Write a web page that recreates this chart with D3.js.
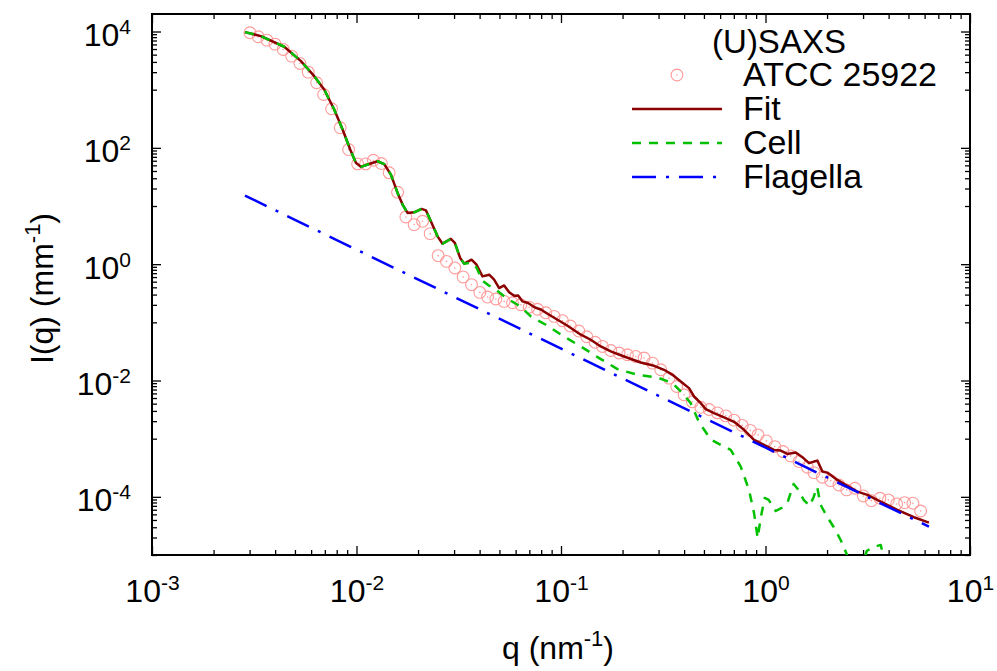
<!DOCTYPE html>
<html><head><meta charset="utf-8">
<script src="https://cdn.jsdelivr.net/npm/d3@7"></script>
<style>
body{margin:0;background:#fff}
svg{display:block}
text{font-family:"Liberation Sans",Arial,Helvetica,sans-serif}
</style>
</head><body>
<svg id="chart" width="997" height="671"></svg>
<script>
// ---- data ----
const dataQ=[3.013e-3,3.308e-3,3.648e-3,3.992e-3,4.383e-3,4.818e-3,5.290e-3,5.806e-3,6.383e-3,6.905e-3,
7.556e-3,8.324e-3,9.150e-3,1.013e-2,1.108e-2,1.209e-2,1.323e-2,1.445e-2,1.588e-2,1.743e-2,
1.914e-2,2.104e-2,2.292e-2,2.507e-2,2.756e-2,3.026e-2,3.322e-2,3.652e-2,4.010e-2,4.374e-2,
4.802e-2,5.272e-2,5.794e-2,6.362e-2,6.985e-2,7.677e-2,8.428e-2,9.254e-2,0.1017,0.1110,
0.1222,0.1337,0.1468,0.1595,0.1751,0.1923,0.2113,0.2320,0.2548,0.2800,
0.3074,0.3376,0.3681,0.3997,0.4392,0.4824,0.5296,0.5821,0.6391,0.7015,
0.7692,0.8418,0.9191,1.010,1.109,1.218,1.328,1.458,1.603,1.726,
1.897,2.083,2.287,2.494,2.738,3.009,3.293,3.627,3.988,4.377,
4.790,5.259,5.736];
const dataI=[9530,8130,7110,6070,4920,3776,2825,2000,1315,826,
469,221,93.5,53.1,53.1,61.2,53.7,37.2,17.2,6.49,
4.79,5.46,3.35,1.40,1.117,0.861,0.603,0.444,0.327,0.272,
0.252,0.229,0.217,0.201,0.182,0.168,0.146,0.1265,0.1067,0.0863,
0.0708,0.0565,0.0454,0.0385,0.0328,0.0297,0.0277,0.0259,0.0243,0.0199,
0.01528,0.01099,0.00789,0.00568,0.00430,0.00346,0.00317,0.00278,0.00247,0.00208,
0.00169,0.00139,0.00116,9.16e-4,7.31e-4,6.00e-4,5.06e-4,4.04e-4,3.23e-4,2.61e-4,
2.17e-4,1.90e-4,1.60e-4,1.315e-4,1.406e-4,1.035e-4,8.61e-5,9.46e-5,8.85e-5,7.55e-5,
7.94e-5,7.77e-5,5.71e-5];

const fitQ=[2.848e-3,3.410e-3,4.433e-3,5.350e-3,6.214e-3,6.952e-3,7.780e-3,8.552e-3,9.316e-3,9.933e-3,
1.051e-2,1.133e-2,1.268e-2,1.366e-2,1.473e-2,1.588e-2,1.680e-2,1.777e-2,1.914e-2,2.081e-2,
2.184e-2,2.310e-2,2.491e-2,2.635e-2,2.893e-2,3.026e-2,3.212e-2,3.360e-2,3.652e-2,3.864e-2,
4.133e-2,4.453e-2,4.710e-2,4.984e-2,5.272e-2,5.577e-2,5.900e-2,6.171e-2,6.485e-2,6.906e-2,
7.387e-2,7.967e-2,8.590e-2,9.614e-2,0.1076,0.1250,0.1398,0.1565,0.1751,0.2034,
0.2455,0.2851,0.3190,0.3508,0.3850,0.4227,0.4471,0.4824,0.5101,0.5601,
0.6270,0.7015,0.7852,0.8788,0.9833,1.100,1.186,1.279,1.405,1.515,
1.632,1.726,1.793,1.897,2.006,2.246,2.513,2.813,3.148,3.656,
4.412,5.318,6.297];
const fitI=[9770,8337,5470,3097,1708,1007,456,206.5,93.5,55.2,
47.1,51.6,58.8,52.6,34.7,16.8,10.57,7.60,7.80,8.91,
8.43,5.46,3.01,2.25,2.72,2.32,1.279,1.021,1.194,0.979,
0.617,0.659,0.541,0.389,0.431,0.330,0.287,0.290,0.229,0.215,
0.183,0.166,0.1406,0.1109,0.0873,0.0612,0.0502,0.0385,0.0316,0.0259,
0.0204,0.0179,0.01528,0.01253,0.00962,0.00740,0.00531,0.00408,0.00322,0.00275,
0.00233,0.00195,0.00142,9.53e-4,7.82e-4,6.41e-4,6.24e-4,5.47e-4,5.77e-4,4.81e-4,
3.79e-4,4.04e-4,4.20e-4,2.72e-4,2.61e-4,1.954e-4,1.542e-4,1.227e-4,1.079e-4,8.26e-5,
5.96e-5,4.46e-5,3.60e-5];

const cellQ=[2.848e-3,3.410e-3,4.433e-3,5.350e-3,6.214e-3,6.952e-3,7.780e-3,8.552e-3,9.316e-3,9.933e-3,
1.051e-2,1.133e-2,1.268e-2,1.366e-2,1.473e-2,1.588e-2,1.680e-2,1.777e-2,1.914e-2,2.081e-2,
2.184e-2,2.310e-2,2.491e-2,2.635e-2,2.893e-2,3.026e-2,3.212e-2,3.360e-2,3.652e-2,3.864e-2,
4.133e-2,4.453e-2,4.710e-2,5.272e-2,5.577e-2,6.130e-2,6.507e-2,7.117e-2,8.428e-2,0.1020,
0.1250,0.1536,0.1888,0.2365,0.2963,0.3508,0.3925,0.4309,0.4732,0.5397,
0.6039,0.6760,0.7566,0.8305,0.8788,0.9159,0.9474,0.9910,1.036,1.122,
1.200,1.284,1.373,1.437,1.537,1.644,1.720,1.789,1.861,1.991,
2.154,2.331,2.494,2.668,2.920,3.124,3.380,3.656,3.824,4.092];
const cellI=[9770,8337,5470,3097,1708,1007,456,206.5,93.5,55.2,
47.1,51.6,58.8,52.6,34.7,16.8,10.57,7.60,7.80,8.91,
8.43,5.46,3.01,2.25,2.72,2.32,1.279,1.021,1.062,0.871,
0.520,0.427,0.386,0.281,0.245,0.201,0.1714,0.1265,0.0910,0.0587,
0.0385,0.0243,0.0157,0.01253,0.01127,0.00902,0.00607,0.00408,0.00191,9.72e-4,
7.82e-4,6.41e-4,3.31e-4,1.315e-4,5.28e-5,1.96e-5,4.34e-5,9.57e-5,8.85e-5,5.71e-5,
6.44e-5,8.17e-5,1.667e-4,1.368e-4,8.85e-5,6.97e-5,9.95e-5,1.479e-4,7.26e-5,4.69e-5,
3.03e-5,1.81e-5,1.04e-5,4.53e-6,5.10e-6,1.17e-5,1.37e-5,1.49e-5,8.2e-6,2.5e-6];

const flagQ=[2.848e-3,1.648e-2,0.1565,1.002,6.297];
const flagI=[15.10,0.760,0.01648,7.00e-4,3.07e-5];

const xTickValues=[1e-3,1e-2,1e-1,1e0,1e1];
const xTickExps=["-3","-2","-1","0","1"];
const yTickValues=[1e-4,1e-2,1e0,1e2,1e4];
const yTickExps=["-4","-2","0","2","4"];
const legendTitle="(U)SAXS";
const seriesNames=["ATCC 25922","Fit","Cell","Flagella"];
const xLabel=["q (nm","-1",")"];
const yLabel=["I(q) (mm","-1",")"];

// ---- layout ----
const L=152,R=970,T=14,B=555;
const svg=d3.select("#chart");
const x=d3.scaleLog().domain([1e-3,1e1]).range([L,R]);
const y=d3.scaleLog().domain([1e-5,2e4]).range([B,T]);

const cPts="#ff9a9a", cFit="#8b0000", cCell="#00c000", cFlag="#0000ff";

svg.append("defs").append("clipPath").attr("id","clip")
  .append("rect").attr("x",L).attr("y",T).attr("width",R-L).attr("height",B-T);

// minor ticks
const lg=v=>Math.floor(Math.log10(v)+1e-9);
const xMinor=x.ticks().filter(v=>!xTickValues.some(t=>Math.abs(t-v)/t<1e-6));
const yMinor=y.ticks().filter(v=>Math.abs(lg(v))%2===1);

function styleAxis(g){g.select(".domain").remove();g.selectAll(".tick line").attr("stroke","#000").attr("stroke-width",1.3);}
function addAxis(axis,tx,ty){const g=svg.append("g").attr("transform",`translate(${tx},${ty})`).call(axis);styleAxis(g);return g;}

addAxis(d3.axisBottom(x).tickValues(xMinor).tickSize(-5).tickFormat(""),0,B);
addAxis(d3.axisTop(x).tickValues(xMinor).tickSize(-5).tickFormat(""),0,T);
addAxis(d3.axisLeft(y).tickValues(yMinor).tickSize(-5).tickFormat(""),L,0);
addAxis(d3.axisRight(y).tickValues(yMinor).tickSize(-5).tickFormat(""),R,0);
addAxis(d3.axisTop(x).tickValues(xTickValues).tickSize(-9).tickFormat(""),0,T);
addAxis(d3.axisRight(y).tickValues(yTickValues).tickSize(-9).tickFormat(""),R,0);

const gx=addAxis(d3.axisBottom(x).tickValues(xTickValues).tickSize(-9).tickFormat(""),0,B);
gx.selectAll(".tick text").each(function(d,i){
  const t=d3.select(this).attr("y",47).attr("dy",null).attr("font-size",32).attr("fill","#000")
    .attr("text-anchor","middle").style("font-family",'"Liberation Sans",Arial,sans-serif');
  t.append("tspan").text("10");
  t.append("tspan").attr("font-size",21).attr("dy",-12).text(xTickExps[i]);
});
const gy=addAxis(d3.axisLeft(y).tickValues(yTickValues).tickSize(-9).tickPadding(21).tickFormat(""),L,0);
gy.selectAll(".tick text").each(function(d,i){
  const t=d3.select(this).attr("y",14).attr("dy",null).attr("font-size",32).attr("fill","#000")
    .attr("text-anchor","end").style("font-family",'"Liberation Sans",Arial,sans-serif');
  t.append("tspan").text("10");
  t.append("tspan").attr("font-size",21).attr("dy",-12).text(yTickExps[i]);
});

// border
svg.append("rect").attr("x",L).attr("y",T).attr("width",R-L).attr("height",B-T)
  .attr("fill","none").attr("stroke","#000").attr("stroke-width",2);

// data points
const plot=svg.append("g").attr("clip-path","url(#clip)");
const pts=dataQ.map((q,i)=>({q,I:dataI[i]}));
const pg=plot.append("g");
pg.selectAll("circle.o").data(pts).join("circle").attr("class","o")
  .attr("cx",d=>x(d.q)).attr("cy",d=>y(d.I)).attr("r",5.9)
  .attr("fill","none").attr("stroke",cPts).attr("stroke-width",1.1);
pg.selectAll("circle.c").data(pts).join("circle").attr("class","c")
  .attr("cx",d=>x(d.q)).attr("cy",d=>y(d.I)).attr("r",0.8).attr("fill",cPts);

const line=d3.line().x(d=>x(d[0])).y(d=>y(d[1]));
function drawLine(Q,I,color,dash){
  plot.append("path").datum(Q.map((q,i)=>[q,I[i]])).attr("d",line)
    .attr("fill","none").attr("stroke",color).attr("stroke-width",2.5)
    .attr("stroke-dasharray",dash).attr("stroke-linejoin","round");
}
drawLine(fitQ,fitI,cFit,null);
drawLine(cellQ,cellI,cCell,"9,8");
drawLine(flagQ,flagI,cFlag,"24,10,3,10");

// axis labels
const xl=svg.append("text").attr("x",(L+R)/2-3).attr("y",659).attr("text-anchor","middle").attr("font-size",32);
xl.append("tspan").text(xLabel[0]);
xl.append("tspan").attr("font-size",22).attr("dy",-13).text(xLabel[1]);
xl.append("tspan").attr("dy",13).text(xLabel[2]);
const yl=svg.append("text").attr("transform",`translate(53,${(T+B)/2+4}) rotate(-90)`).attr("text-anchor","middle").attr("font-size",32);
yl.append("tspan").text(yLabel[0]);
yl.append("tspan").attr("font-size",22).attr("dy",-13).text(yLabel[1]);
yl.append("tspan").attr("dy",13).text(yLabel[2]);

// legend
const leg=svg.append("g");
leg.append("text").attr("x",779).attr("y",53).attr("text-anchor","middle").attr("font-size",33).text(legendTitle);
const rowY=[75,109,143,177];
leg.append("circle").attr("cx",677).attr("cy",rowY[0]).attr("r",5.9).attr("fill","none").attr("stroke",cPts).attr("stroke-width",1.1);
leg.append("circle").attr("cx",677).attr("cy",rowY[0]).attr("r",0.8).attr("fill",cPts);
[[cFit,null],[cCell,"9,8"],[cFlag,"24,10,3,10"]].forEach((s,i)=>{
  leg.append("line").attr("x1",632).attr("x2",722).attr("y1",rowY[i+1]).attr("y2",rowY[i+1])
    .attr("stroke",s[0]).attr("stroke-width",2.5).attr("stroke-dasharray",s[1]);
});
seriesNames.forEach((n,i)=>{
  leg.append("text").attr("x",743).attr("y",rowY[i]+11).attr("font-size",34).text(n);
});
</script>
</body></html>
